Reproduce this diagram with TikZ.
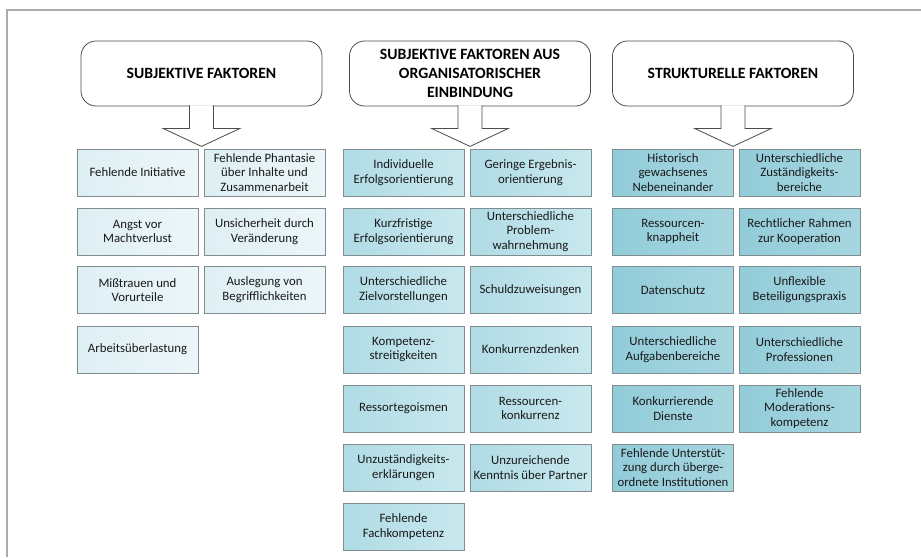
\documentclass[tikz,border=0pt]{standalone}
\usepackage{fontspec}
\setmainfont{Carlito}

\definecolor{frameGray}{HTML}{ABABAB}
\definecolor{boxLine}{HTML}{7F8C90}
\definecolor{subjDark}{RGB}{222,239,244}
\definecolor{subjLight}{RGB}{236,246,249}
\definecolor{orgaDark}{RGB}{176,219,229}
\definecolor{orgaLight}{RGB}{200,232,238}
\definecolor{strukDark}{RGB}{146,204,217}
\definecolor{strukLight}{RGB}{166,214,224}

\tikzset{
  factor/.style={draw=boxLine, line width=0.8pt, minimum width=121pt, minimum height=47pt,
    inner sep=0pt, align=center, text=black!90, font=\fontsize{12.8}{14.8}\selectfont},
  subjbox/.style={factor, left color=subjDark, right color=subjLight},
  orgabox/.style={factor, left color=orgaDark, right color=orgaLight},
  strukbox/.style={factor, left color=strukDark, right color=strukLight},
  headbox/.style={draw=black!70, line width=0.8pt, rounded corners=15pt, minimum width=241pt,
    minimum height=65pt, inner sep=0pt, align=center, font=\fontsize{15.7}{19.3}\selectfont\bfseries},
  headarrow/.style={draw=black!70, line width=0.8pt, fill=white}
}

\begin{document}
\begin{tikzpicture}[x=1pt,y=-1pt]
\useasboundingbox (0,0) rectangle (921,557);
\draw[frameGray, line width=2pt] (7,557) -- (7,10) -- (921,10);

% headers
\node[headbox] (subj) at (201.5,73.5) {SUBJEKTIVE FAKTOREN};
\node[headbox] (orga) at (470,73.5) {SUBJEKTIVE FAKTOREN AUS\\ORGANISATORISCHER\\EINBINDUNG};
\node[headbox] (struk) at (733,73.5) {STRUKTURELLE FAKTOREN};

\draw[headarrow, shift={(subj.south)}] (-12,-1) -- (-12,22) -- (-38.5,22) -- (0,40) -- (38.5,22) -- (12,22) -- (12,-1);
\draw[headarrow, shift={(orga.south)}] (-12,-1) -- (-12,22) -- (-38.5,22) -- (0,40) -- (38.5,22) -- (12,22) -- (12,-1);
\draw[headarrow, shift={(struk.south)}] (-12,-1) -- (-12,22) -- (-38.5,22) -- (0,40) -- (38.5,22) -- (12,22) -- (12,-1);

% subjektive faktoren
\node[subjbox] (subjA1) at (137.5,172.5) {Fehlende Initiative};
\node[subjbox] (subjA2) at (137.5,231.5) {Angst vor\\Machtverlust};
\node[subjbox] (subjA3) at (137.5,290) {Mißtrauen und\\Vorurteile};
\node[subjbox] (subjA4) at (137.5,349.5) {Arbeitsüberlastung};
\node[subjbox] (subjB1) at (264.5,172.5) {Fehlende Phantasie\\über Inhalte und\\Zusammenarbeit};
\node[subjbox] (subjB2) at (264.5,231.5) {Unsicherheit durch\\Veränderung};
\node[subjbox] (subjB3) at (264.5,290) {Auslegung von\\Begrifflichkeiten};

% organisatorische einbindung
\node[orgabox] (orgaA1) at (403.5,172.5) {Individuelle\\Erfolgsorientierung};
\node[orgabox] (orgaA2) at (403.5,231.5) {Kurzfristige\\Erfolgsorientierung};
\node[orgabox] (orgaA3) at (403.5,290) {Unterschiedliche\\Zielvorstellungen};
\node[orgabox] (orgaA4) at (403.5,349.5) {Kompetenz-\\streitigkeiten};
\node[orgabox] (orgaA5) at (403.5,408.5) {Ressortegoismen};
\node[orgabox] (orgaA6) at (403.5,467.5) {Unzuständigkeits-\\erklärungen};
\node[orgabox] (orgaA7) at (403.5,526.5) {Fehlende\\Fachkompetenz};
\node[orgabox] (orgaB1) at (530.5,172.5) {Geringe Ergebnis-\\orientierung};
\node[orgabox] (orgaB2) at (530.5,231.5) {Unterschiedliche\\Problem-\\wahrnehmung};
\node[orgabox] (orgaB3) at (530.5,290) {Schuldzuweisungen};
\node[orgabox] (orgaB4) at (530.5,349.5) {Konkurrenzdenken};
\node[orgabox] (orgaB5) at (530.5,408.5) {Ressourcen-\\konkurrenz};
\node[orgabox] (orgaB6) at (530.5,467.5) {Unzureichende\\Kenntnis über Partner};

% strukturelle faktoren
\node[strukbox] (strukA1) at (673,172.5) {Historisch\\gewachsenes\\Nebeneinander};
\node[strukbox] (strukA2) at (673,231.5) {Ressourcen-\\knappheit};
\node[strukbox] (strukA3) at (673,290) {Datenschutz};
\node[strukbox] (strukA4) at (673,349.5) {Unterschiedliche\\Aufgabenbereiche};
\node[strukbox] (strukA5) at (673,408.5) {Konkurrierende\\Dienste};
\node[strukbox] (strukA6) at (673,467.5) {Fehlende Unterstüt-\\zung durch überge-\\ordnete Institutionen};
\node[strukbox] (strukB1) at (799.5,172.5) {Unterschiedliche\\Zuständigkeits-\\bereiche};
\node[strukbox] (strukB2) at (799.5,231.5) {Rechtlicher Rahmen\\zur Kooperation};
\node[strukbox] (strukB3) at (799.5,290) {Unflexible\\Beteiligungspraxis};
\node[strukbox] (strukB4) at (799.5,349.5) {Unterschiedliche\\Professionen};
\node[strukbox] (strukB5) at (799.5,408.5) {Fehlende\\Moderations-\\kompetenz};
\end{tikzpicture}
\end{document}
